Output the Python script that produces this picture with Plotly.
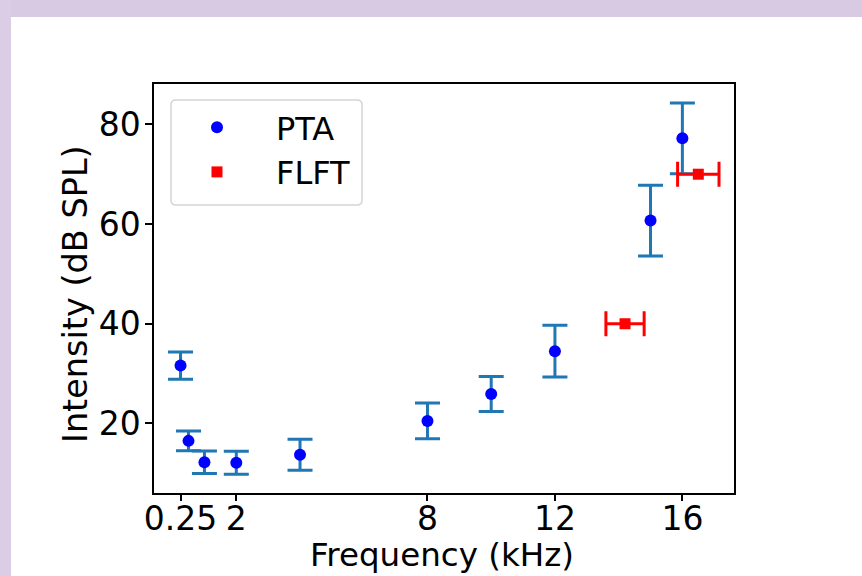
import plotly.graph_objects as go

# ---- data ----
pta_freq = [0.25, 0.5, 1, 2, 4, 8, 10, 12, 15, 16]
pta_int = [31.6, 16.5, 12.2, 12.1, 13.7, 20.5, 25.9, 34.5, 60.7, 77.2]
pta_err = [2.75, 2.0, 2.25, 2.3, 3.1, 3.6, 3.5, 5.2, 7.1, 7.1]

flft_freq = [14.2, 16.5]
flft_int = [40.0, 70.0]
flft_xerr = [0.6, 0.65]

x_ticks = [0.25, 2, 8, 12, 16]
x_tick_labels = ["0.25", "2", "8", "12", "16"]
y_ticks = [20, 40, 60, 80]

x_title = "Frequency (kHz)"
y_title = "Intensity (dB SPL)"

FONT = "DejaVu Sans"
W, H = 862, 576
L, R, T, B = 154, 734, 84, 493
PW, PH = R - L, B - T


def px(x):
    return (x - L) / PW


def py(y):
    return (B - y) / PH


fig = go.Figure()
fig.add_trace(go.Scatter(
    x=pta_freq, y=pta_int, mode="markers", name="PTA",
    marker=dict(color="#0000ff", size=12, symbol="circle"),
    error_y=dict(type="data", array=pta_err, visible=True,
                 color="#1f77b4", thickness=3, width=12.5),
))
fig.add_trace(go.Scatter(
    x=flft_freq, y=flft_int, mode="markers", name="FLFT",
    marker=dict(color="#ff0000", size=11, symbol="square"),
    error_x=dict(type="data", array=flft_xerr, visible=True,
                 color="#ff0000", thickness=3, width=12.5),
))

shapes = []
# lavender frame of the slide
shapes.append(dict(type="rect", xref="paper", yref="paper",
                   x0=px(0), x1=px(W), y0=py(17), y1=py(0),
                   fillcolor="#d8cae3", line=dict(width=0), layer="below"))
shapes.append(dict(type="rect", xref="paper", yref="paper",
                   x0=px(0), x1=px(11), y0=py(H), y1=py(0),
                   fillcolor="#dacde5", line=dict(width=0), layer="below"))

# rounded legend frame
lx0, lx1, ly0, ly1 = px(171), px(362), py(205), py(100)
rx, ry = 5 / PW, 5 / PH
path = (f"M {lx0+rx},{ly1} L {lx1-rx},{ly1} Q {lx1},{ly1} {lx1},{ly1-ry} "
        f"L {lx1},{ly0+ry} Q {lx1},{ly0} {lx1-rx},{ly0} "
        f"L {lx0+rx},{ly0} Q {lx0},{ly0} {lx0},{ly0+ry} "
        f"L {lx0},{ly1-ry} Q {lx0},{ly1} {lx0+rx},{ly1} Z")
shapes.append(dict(type="path", xref="paper", yref="paper", path=path,
                   fillcolor="rgba(255,255,255,0.8)",
                   line=dict(color="#d5d5d5", width=1.5), layer="above"))

annotations = [
    dict(text=x_title, xref="paper", yref="paper", x=px(442), y=py(555),
         xanchor="center", yanchor="middle", showarrow=False,
         font=dict(size=32.5, family=FONT, color="black")),
    dict(text=y_title, xref="paper", yref="paper", x=px(75), y=py(294),
         xanchor="center", yanchor="middle", showarrow=False, textangle=-90,
         font=dict(size=33.5, family=FONT, color="black")),
]

fig.update_layout(
    width=W, height=H,
    margin=dict(l=L, r=W - R, t=T, b=H - B),
    paper_bgcolor="white", plot_bgcolor="white",
    font=dict(family=FONT, size=33, color="black"),
    showlegend=True,
    legend=dict(x=px(158), y=py(100), xanchor="left", yanchor="top",
                bgcolor="rgba(0,0,0,0)", borderwidth=0,
                itemwidth=108, font=dict(size=32, family=FONT),
                tracegroupgap=5),
    hovermode=False,
    shapes=shapes,
    annotations=annotations,
    xaxis=dict(
        range=[-0.583, 17.62], tickvals=x_ticks, ticktext=x_tick_labels,
        showgrid=False, zeroline=False, showline=True, mirror=True,
        linecolor="black", linewidth=1.5, ticks="outside", ticklen=6,
        tickwidth=1.5, tickcolor="black", automargin=False,
        ticklabelstandoff=-10,
        tickfont=dict(size=33, family=FONT),
    ),
    yaxis=dict(
        range=[6.04, 88.1], tickvals=y_ticks,
        showgrid=False, zeroline=False, showline=True, mirror=True,
        linecolor="black", linewidth=1.5, ticks="outside", ticklen=7,
        tickwidth=1.5, tickcolor="black", automargin=False,
        ticklabelstandoff=-2,
        tickfont=dict(size=33, family=FONT),
    ),
)

fig.write_html(
    "out.html",
    config={"displayModeBar": False},
    post_script="document.body.style.margin='0';document.body.style.overflow='hidden';",
)
